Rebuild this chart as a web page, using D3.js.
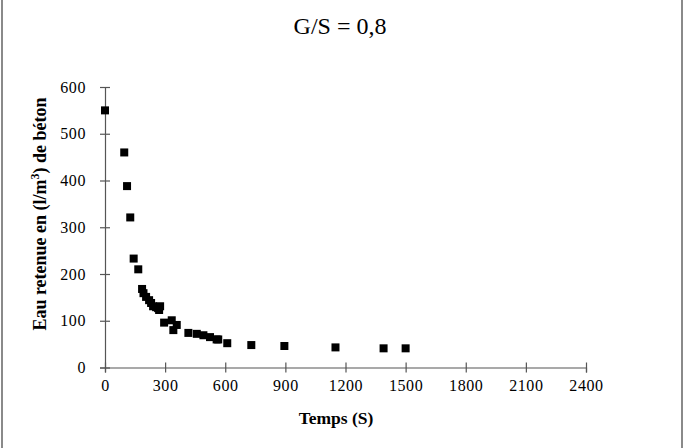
<!DOCTYPE html>
<meta charset="utf-8">
<style>
body { margin: 0; background: #fff; }
svg text { font-family: "Liberation Serif", "Times New Roman", serif; fill: #000; }
</style>
<div id="chart"></div>
<script src="https://d3js.org/d3.v7.min.js"></script>
<script>

// data
var temps = [0, 96, 110, 126, 143, 166, 185, 192, 205, 220, 230, 240, 255, 265, 275, 270,
             295, 333, 341, 358, 416, 458, 491, 524, 557, 565, 610, 730, 895, 1150, 1390, 1500];
var eau   = [550, 460, 388, 321, 233, 210, 168, 159, 151, 144, 138, 131, 129, 127, 131, 123,
             96, 101, 80, 91, 74, 72, 69, 65, 60, 60, 52, 48, 46, 43, 41, 41];
var xTicks = [0, 300, 600, 900, 1200, 1500, 1800, 2100, 2400];
var yTicks = [0, 100, 200, 300, 400, 500, 600];

var W = 685, H = 448;

var svg = d3.select("#chart")
  .append("svg")
    .attr("width", W)
    .attr("height", H);

// frame lines at left and right
svg.append("rect").attr("x", 1).attr("y", 0).attr("width", 2).attr("height", H).attr("fill", "#8a8a8a");
svg.append("rect").attr("x", 681).attr("y", 0).attr("width", 2).attr("height", H).attr("fill", "#8a8a8a");

var x = d3.scaleLinear().domain([0, 2400]).range([105, 586]);
var y = d3.scaleLinear().domain([0, 600]).range([367.5, 87]);

// title
svg.append("text")
  .attr("x", 340).attr("y", 34)
  .attr("text-anchor", "middle")
  .style("font-size", "24px")
  .text("G/S = 0,8");

// x axis
var xAxis = svg.append("g")
  .attr("transform", "translate(0," + y(0) + ")")
  .call(d3.axisBottom(x).tickValues(xTicks).tickFormat(d3.format("d")).tickSize(5).tickPadding(14));
xAxis.selectAll(".tick line").attr("y1", -5);

// y axis
var yAxis = svg.append("g")
  .attr("transform", "translate(" + x(0) + ",0)")
  .call(d3.axisLeft(y).tickValues(yTicks).tickFormat(d3.format("d")).tickSize(5).tickPadding(14));
yAxis.selectAll(".tick line").attr("x1", 5);

svg.selectAll(".domain, .tick line").attr("stroke", "#555").attr("stroke-width", 1.2);
svg.selectAll(".tick text").style("font-size", "16px").style("letter-spacing", "0.6px").attr("fill", "#111");
xAxis.selectAll(".tick text").attr("dy", "0.25em");

// axis titles
svg.append("text")
  .attr("x", 336).attr("y", 424)
  .attr("text-anchor", "middle")
  .style("font-size", "17.5px").style("font-weight", "bold")
  .text("Temps (S)");

var yl = svg.append("text")
  .attr("transform", "translate(46,214) rotate(-90)")
  .attr("text-anchor", "middle")
  .style("font-size", "18px").style("font-weight", "bold");
yl.append("tspan").text("Eau retenue en (l/m");
yl.append("tspan").attr("dy", -7).style("font-size", "12px").text("3");
yl.append("tspan").attr("dy", 7).text(") de béton");

// points
var pts = temps.map(function(t, i) { return {t: t, v: eau[i]}; });
svg.selectAll("rect.pt")
  .data(pts)
  .enter()
  .append("rect")
    .attr("class", "pt")
    .attr("x", function(d) { return x(d.t) - 4; })
    .attr("y", function(d) { return y(d.v) - 4; })
    .attr("width", 8)
    .attr("height", 8)
    .attr("fill", "#000");

</script>
